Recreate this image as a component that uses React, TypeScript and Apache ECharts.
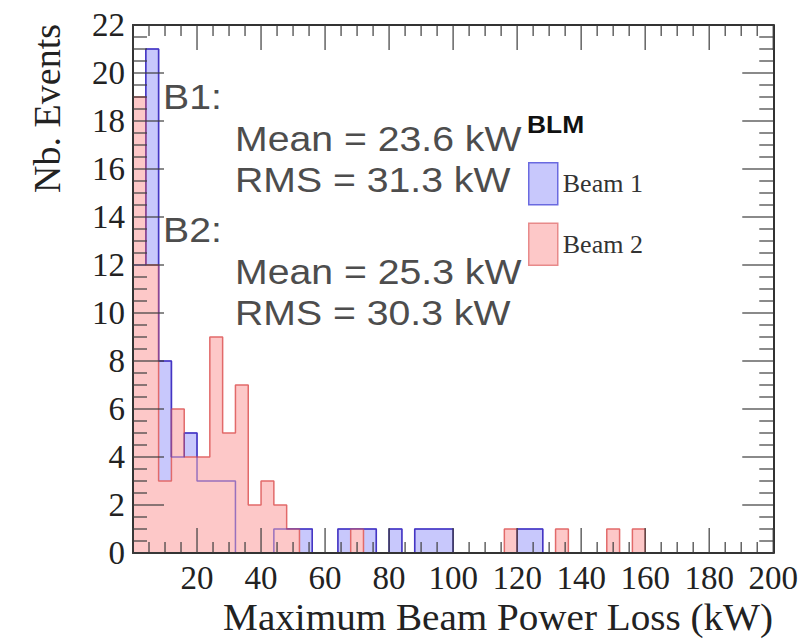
import React, { useEffect, useRef } from 'react';
import * as echarts from 'echarts';

// Histogram binning (kW)
const BIN_WIDTH = 4;
const X_MIN = 0;
const X_MAX = 200;
const Y_MAX = 22;
const X_MAJOR = 20;
const X_MINOR = 5;
const Y_MAJOR = 2;
const Y_MINOR = 0.5;

// Counts per 4 kW bin
const beam1Counts = [
  12, 21, 8, 4, 5, 3, 3, 3, 0, 0,
  0, 1, 1, 1, 0, 0, 1, 1, 1, 0,
  1, 0, 1, 1, 1, 0, 0, 0, 0, 0,
  1, 1, 0, 0, 0, 0, 0, 0, 0, 0,
  0, 0, 0, 0, 0, 0, 0, 0, 0, 0,
];
const beam2Counts = [
  19, 12, 3, 6, 4, 4, 9, 5, 7, 2,
  3, 2, 1, 0, 0, 0, 0, 1, 0, 0,
  0, 0, 0, 0, 0, 0, 0, 0, 0, 1,
  0, 0, 0, 1, 0, 0, 0, 1, 0, 1,
  0, 0, 0, 0, 0, 0, 0, 0, 0, 0,
];

const seriesNames = ['Beam 1', 'Beam 2'];
const legendTitle = 'BLM';
const statsLines = [
  'B1:',
  'Mean = 23.6 kW',
  'RMS = 31.3 kW',
  'B2:',
  'Mean = 25.3 kW',
  'RMS = 30.3 kW',
];
const xTitle = 'Maximum Beam Power Loss (kW)';
const yTitle = 'Nb. Events';

const BLUE_FILL = '#c8c8fc';
const BLUE_LINE = '#4646d6';
const RED_FILL = '#fdc8c8';
const RED_LINE = '#e26a6a';
const TICK_COLOR = 'rgba(60,60,60,0.8)';

const SERIF = '"Liberation Serif", "Times New Roman", serif';
const SANS = '"Liberation Sans", Arial, Helvetica, sans-serif';

const W = 801;
const H = 644;
const GRID = { left: 133, right: 27, top: 25, bottom: 91 };

function toStep(counts: number[]): [number, number][] {
  const pts: [number, number][] = counts.map((c, i) => [X_MIN + i * BIN_WIDTH, c]);
  pts.push([X_MIN + counts.length * BIN_WIDTH, 0]);
  return pts;
}

function tickValues(min: number, max: number, step: number): number[] {
  const out: number[] = [];
  const n = Math.round((max - min) / step);
  for (let i = 0; i <= n; i++) out.push(min + i * step);
  return out;
}

const isMultiple = (v: number, m: number) => Math.abs(v / m - Math.round(v / m)) < 1e-9;

export default function App() {
  const ref = useRef<HTMLDivElement>(null);

  useEffect(() => {
    if (!ref.current) return;
    const chart = echarts.init(ref.current, undefined, { renderer: 'svg' });

    const axisLine = { show: true, onZero: false, lineStyle: { color: '#333', width: 2 } };

    const xCommon = {
      type: 'value' as const,
      min: X_MIN,
      max: X_MAX,
      interval: X_MAJOR,
      z: 10,
      axisLine,
      splitLine: { show: false },
      axisTick: { show: false },
      minorTick: { show: false },
    };
    const yCommon = {
      type: 'value' as const,
      min: 0,
      max: Y_MAX,
      interval: Y_MAJOR,
      z: 10,
      axisLine,
      splitLine: { show: false },
      axisTick: { show: false },
      minorTick: { show: false },
    };

    chart.setOption({
      animation: false,
      backgroundColor: '#ffffff',
      grid: { ...GRID, containLabel: false },
      xAxis: [
        {
          ...xCommon,
          position: 'bottom',
          axisLabel: {
            showMinLabel: false,
            fontFamily: SERIF,
            fontSize: 33,
            color: '#222',
            margin: 8,
          },
        },
        { ...xCommon, position: 'top', axisLabel: { show: false } },
      ],
      yAxis: [
        {
          ...yCommon,
          position: 'left',
          axisLabel: { fontFamily: SERIF, fontSize: 33, color: '#222', margin: 8 },
        },
        { ...yCommon, position: 'right', axisLabel: { show: false } },
      ],
      legend: {
        orient: 'vertical',
        left: 523,
        top: 157,
        itemWidth: 29,
        itemHeight: 42,
        itemGap: 17,
        selectedMode: false,
        textStyle: { fontFamily: SERIF, fontSize: 26, color: '#333' },
        data: [
          {
            name: seriesNames[0],
            icon: 'rect',
            itemStyle: { color: BLUE_FILL, borderColor: '#6a6ae0', borderWidth: 1.5 },
          },
          {
            name: seriesNames[1],
            icon: 'rect',
            itemStyle: { color: RED_FILL, borderColor: '#e88a8a', borderWidth: 1.5 },
          },
        ],
      },
      series: [
        {
          name: seriesNames[0],
          type: 'line',
          step: 'end',
          data: toStep(beam1Counts),
          symbol: 'none',
          showSymbol: false,
          z: 2,
          itemStyle: { color: BLUE_LINE },
          lineStyle: { color: BLUE_LINE, width: 1.5 },
          areaStyle: { color: BLUE_FILL, opacity: 1 },
        },
        {
          name: seriesNames[1],
          type: 'line',
          step: 'end',
          data: toStep(beam2Counts),
          symbol: 'none',
          showSymbol: false,
          z: 3,
          itemStyle: { color: RED_LINE },
          lineStyle: { color: RED_LINE, width: 1.5 },
          areaStyle: { color: RED_FILL, opacity: 1 },
        },
        {
          name: seriesNames[0],
          type: 'line',
          step: 'end',
          data: toStep(beam1Counts),
          symbol: 'none',
          showSymbol: false,
          silent: true,
          z: 4,
          itemStyle: { color: BLUE_LINE },
          lineStyle: { color: 'rgba(70,40,180,0.55)', width: 1.5 },
        },
      ],
    });

    // Tick marks on all four sides, positioned through the axes' own scales
    const plotW = W - GRID.left - GRID.right;
    const plotH = H - GRID.top - GRID.bottom;
    const px = (v: number) => {
      const p = chart.convertToPixel({ xAxisIndex: 0 }, v) as any;
      return Number.isFinite(p) ? (p as number) : GRID.left + ((v - X_MIN) / (X_MAX - X_MIN)) * plotW;
    };
    const py = (v: number) => {
      const p = chart.convertToPixel({ yAxisIndex: 0 }, v) as any;
      return Number.isFinite(p) ? (p as number) : GRID.top + (1 - v / Y_MAX) * plotH;
    };
    const yBottom = py(0);
    const yTop = py(Y_MAX);
    const xLeft = px(X_MIN);
    const xRight = px(X_MAX);

    const bar = (x: number, y: number, width: number, height: number) => ({
      type: 'rect',
      silent: true,
      z: 50,
      shape: { x, y, width, height },
      style: { fill: TICK_COLOR },
    });

    const ticks: any[] = [];
    tickValues(X_MIN, X_MAX, X_MINOR).forEach((v) => {
      const x = px(v);
      const len = isMultiple(v, X_MAJOR) ? 25 : 11;
      ticks.push(bar(x - 0.75, yBottom - len, 1.5, len));
      ticks.push(bar(x - 0.75, yTop, 1.5, len));
    });
    tickValues(0, Y_MAX, Y_MINOR).forEach((v) => {
      const y = py(v);
      const len = isMultiple(v, Y_MAJOR) ? 31 : 14;
      ticks.push(bar(xLeft, y - 0.75, len, 1.5));
      ticks.push(bar(xRight - len, y - 0.75, len, 1.5));
    });

    const statsY = [97, 139, 180, 230, 272, 313];
    const statsX = [163, 235, 235, 163, 235, 235];

    chart.setOption({
      graphic: [
        ...ticks,
        {
          type: 'text',
          x: 527,
          y: 124,
          scaleX: 1.1,
          style: {
            text: legendTitle,
            fontFamily: SANS,
            fontWeight: 'bold',
            fontSize: 24,
            fill: '#111',
            align: 'left',
            verticalAlign: 'middle',
          },
        },
        ...statsLines.map((t, i) => ({
          type: 'text',
          x: statsX[i],
          y: statsY[i],
          scaleX: 1.12,
          style: {
            text: t,
            fontFamily: SANS,
            fontSize: 35,
            fill: '#4d4d4d',
            align: 'left',
            verticalAlign: 'middle',
          },
        })),
        {
          type: 'text',
          x: 47,
          y: 24,
          rotation: Math.PI / 2,
          style: {
            text: yTitle,
            fontFamily: SERIF,
            fontSize: 38,
            fill: '#222',
            align: 'right',
            verticalAlign: 'middle',
          },
        },
        {
          type: 'text',
          x: 773,
          y: 617,
          scaleX: 1.03,
          style: {
            text: xTitle,
            fontFamily: SERIF,
            fontSize: 38,
            fill: '#222',
            align: 'right',
            verticalAlign: 'middle',
          },
        },
      ],
    });

    return () => chart.dispose();
  }, []);

  return (
    <div
      ref={ref}
      style={{ position: 'fixed', left: 0, top: 0, width: 801, height: 644, background: '#fff' }}
    />
  );
}
